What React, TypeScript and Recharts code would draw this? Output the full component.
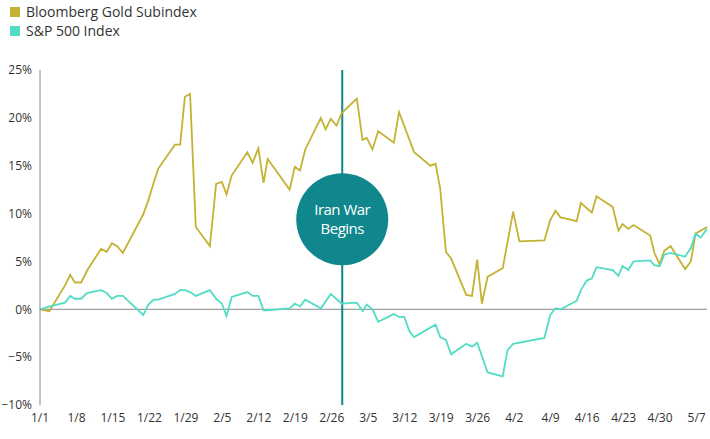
import React from "react";
import { LineChart, Line, XAxis, YAxis, ReferenceLine, ReferenceDot } from "recharts";

const goldDays = [0,1.8,4.8,5.8,6.7,7.9,9.1,11.7,12.8,13.8,14.8,15.9,19.8,20.8,21.8,22.7,25.9,26.9,27.8,28.8,29.9,32.6,33.8,34.9,35.8,36.8,39.8,40.8,41.9,42.9,43.7,47.9,48.9,49.9,50.9,53.9,54.8,55.8,56.9,57.9,60.8,61.9,62.7,63.8,64.9,67.9,68.9,71.8,74.9,75.9,76.8,77.9,78.9,81.8,82.9,83.9,84.8,85.9,88.8,90.8,92.0,96.8,97.9,98.9,99.9,103,103.8,105.9,106.8,109.9,111,111.8,112.9,113.9,117.1,117.9,118.9,119.8,121,123.8,124.9,125.8,128];
const goldVals = [0,-0.2,2.5,3.6,2.8,2.8,4.1,6.3,6.0,6.9,6.6,5.9,9.9,11.4,13.2,14.7,17.2,17.2,22.2,22.5,8.6,6.6,13.1,13.3,12.0,14.0,16.4,15.3,16.8,13.2,15.7,12.5,14.9,14.5,16.7,20.0,18.8,19.9,19.2,20.5,22.0,17.7,17.9,16.7,18.6,17.4,20.6,16.4,15.0,15.2,12.6,6.0,5.3,1.5,1.4,5.2,0.6,3.4,4.3,10.2,7.1,7.2,9.3,10.3,9.6,9.2,11.1,10.1,11.8,10.7,8.2,8.9,8.4,8.8,7.7,5.9,4.7,6.1,6.6,4.2,5.0,7.9,8.6];
const spDays = [0,1.9,4.8,5.8,6.7,7.9,9.0,11.7,12.8,13.8,14.8,15.9,19.8,20.8,21.8,22.7,25.9,26.9,27.8,28.8,29.9,32.6,33.8,34.9,35.8,36.8,39.8,40.8,41.9,42.9,43.7,47.9,48.9,49.9,50.9,53.9,55.8,57.9,60.8,61.9,62.7,63.8,64.9,67.9,68.9,69.9,70.9,71.8,75.9,76.8,77.9,78.9,81.8,82.9,83.9,85.9,88.8,89.7,90.8,96.8,97.9,98.9,99.9,103,103.8,104.9,105.9,106.8,109.9,111,111.8,112.9,113.9,117.1,117.9,118.9,119.8,121,123.8,124.9,125.8,126.8,128];
const spVals = [0,0.3,0.7,1.4,1.1,1.1,1.7,2.0,1.7,1.1,1.4,1.4,-0.6,0.5,1.0,1.0,1.6,2.0,2.0,1.8,1.4,2.0,1.1,0.6,-0.7,1.3,1.8,1.4,1.4,-0.1,-0.1,0.1,0.6,0.3,1.0,0.1,1.6,0.6,0.7,-0.2,0.5,0,-1.3,-0.5,-0.8,-0.8,-2.3,-2.9,-1.6,-2.9,-3.2,-4.7,-3.6,-3.9,-3.5,-6.6,-7.0,-4.3,-3.6,-3.0,-0.6,0.1,0,0.9,2.0,3.0,3.2,4.4,4.1,3.5,4.5,4.1,5.0,5.1,4.6,4.5,5.7,5.9,5.5,6.4,7.9,7.5,8.4];

const tickDays = [0,7,14,21,28,35,42,49,56,63,70,77,84,91,98,105,112,119,126];
const tickLabels = ["1/1","1/8","1/15","1/22","1/29","2/5","2/12","2/19","2/26","3/5","3/12","3/19","3/26","4/2","4/9","4/16","4/23","4/30","5/7"];
const yTicks = [-10,-5,0,5,10,15,20,25];
const warDay = 58;

const goldData = goldDays.map((d, i) => ({ d, v: goldVals[i] }));
const spData = spDays.map((d, i) => ({ d, v: spVals[i] }));

const GOLD = "#c4b232";
const TEAL = "#52dcc5";
const DARK = "#10878c";
const FONT = "'Open Sans', sans-serif";

const Bubble = (p: any) => (
  <g>
    <circle cx={p.cx} cy={p.cy} r={46} fill={DARK} />
    <text x={p.cx} y={p.cy - 4} textAnchor="middle" fill="#fff" fontSize={15} fontFamily={FONT} style={{ letterSpacing: -0.5 }}>Iran War</text>
    <text x={p.cx} y={p.cy + 15} textAnchor="middle" fill="#fff" fontSize={15} fontFamily={FONT} style={{ letterSpacing: -0.5 }}>Begins</text>
  </g>
);

export default function App() {
  return (
    <div style={{ position: "absolute", left: 0, top: 0, width: 710, height: 439, background: "#fff", fontFamily: FONT }}>
      <div style={{ position: "absolute", left: 10, top: 2, fontSize: 14, color: "#333", lineHeight: "19px" }}>
        <div style={{ display: "flex", alignItems: "center" }}>
          <span style={{ width: 10, height: 10, background: GOLD, marginRight: 6, display: "inline-block" }} />Bloomberg Gold Subindex
        </div>
        <div style={{ display: "flex", alignItems: "center" }}>
          <span style={{ width: 10, height: 10, background: TEAL, marginRight: 6, display: "inline-block" }} />S&amp;P 500 Index
        </div>
      </div>
      <LineChart width={710} height={439} margin={{ top: 70, right: 3, left: 0, bottom: 0 }}>
        <XAxis type="number" dataKey="d" domain={[0, 128]} ticks={tickDays} allowDuplicatedCategory={false}
          tickFormatter={(v: number) => tickLabels[tickDays.indexOf(v)]} axisLine={false} tickLine={false}
          tick={{ fill: "#333", fontSize: 12, fontFamily: FONT }} height={34} interval={0} />
        <YAxis type="number" domain={[-10, 25]} ticks={yTicks} width={40} tickFormatter={(v: number) => (v < 0 ? "\u2212" + Math.abs(v) : v) + "%"}
          axisLine={{ stroke: "#888" }} tickLine={false} tick={{ fill: "#333", fontSize: 12, fontFamily: FONT }} />
        <ReferenceLine y={0} stroke="#888" />
        <ReferenceLine x={warDay} stroke={DARK} strokeWidth={2} />
        <Line data={goldData} dataKey="v" stroke={GOLD} strokeWidth={1.8} dot={false} isAnimationActive={false} />
        <Line data={spData} dataKey="v" stroke={TEAL} strokeWidth={1.8} dot={false} isAnimationActive={false} />
        <ReferenceDot x={warDay} y={9.4} r={46} shape={Bubble} />
      </LineChart>
    </div>
  );
}
